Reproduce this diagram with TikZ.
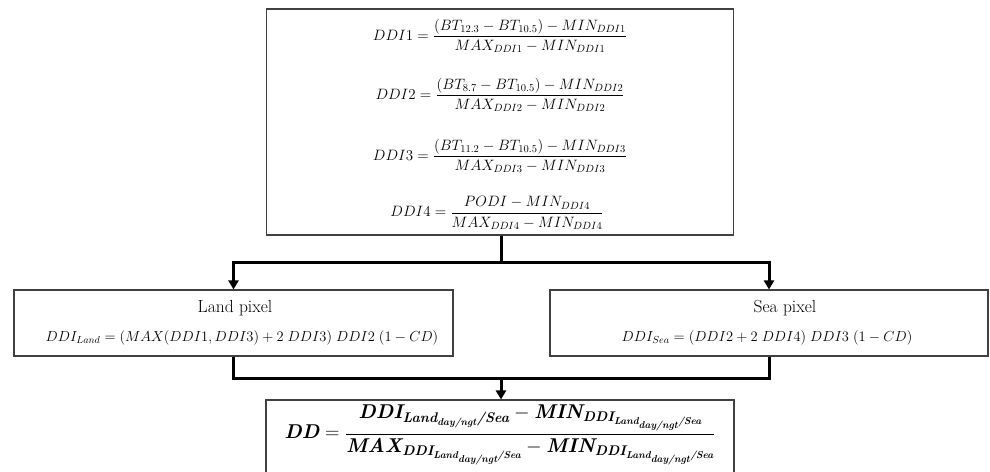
\RequirePackage{fix-cm}
\documentclass[tikz,border=0pt]{standalone}
\usepackage{amsmath}
\usetikzlibrary{arrows.meta}
\newcommand{\bi}[1]{\text{\bfseries\itshape #1}}
\newcommand{\subLS}{\bi{Land}_{\bi{day/ngt}}\bi{/Sea}}
\newcommand{\ddformula}{$\bi{DD}=\dfrac{\bi{DDI}_{\subLS}-\bi{MIN}_{\bi{DDI}_{\subLS}}}{\bi{MAX}_{\bi{DDI}_{\subLS}}-\bi{MIN}_{\bi{DDI}_{\subLS}}}$}
\begin{document}
\begin{tikzpicture}[x=1pt,y=-1pt,
  box/.style={draw=black!75, line width=1.1pt, inner sep=0pt},
  conn/.style={line width=3pt, black},
  arr/.style={conn, -{Triangle[length=9pt,width=10pt]}},
  eq/.style={inner sep=0pt, font=\fontsize{15}{18}\selectfont},
  eqs/.style={inner sep=0pt, font=\fontsize{14.5}{17}\selectfont},
  eqb/.style={inner sep=0pt, font=\fontsize{20}{24}\selectfont},
  ttl/.style={inner sep=0pt, font=\fontsize{17.5}{21}\selectfont}]
\useasboundingbox (0,0) rectangle (990,471);
% boxes
\node[box, minimum width=467pt, minimum height=226pt] (top) at (500,122) {};
\node[box, minimum width=439pt, minimum height=66pt] (land) at (233.5,323) {};
\node[box, minimum width=438pt, minimum height=66pt] (sea) at (769,323) {};
\node[box, minimum width=468pt, minimum height=160pt] (dd) at (500,480) {};
% top equations
\node[eq] (e1) at (500,36) {$DDI1=\dfrac{(BT_{12.3}-BT_{10.5})-MIN_{DDI1}}{MAX_{DDI1}-MIN_{DDI1}}$};
\node[eq] (e2) at (500,95) {$DDI2=\dfrac{(BT_{8.7}-BT_{10.5})-MIN_{DDI2}}{MAX_{DDI2}-MIN_{DDI2}}$};
\node[eq] (e3) at (500,156) {$DDI3=\dfrac{(BT_{11.2}-BT_{10.5})-MIN_{DDI3}}{MAX_{DDI3}-MIN_{DDI3}}$};
\node[eq] (e4) at (497,213) {$DDI4=\dfrac{PODI-MIN_{DDI4}}{MAX_{DDI4}-MIN_{DDI4}}$};
% land / sea
\node[ttl] (lt) at (235,308) {Land pixel};
\node[eqs] (le) at (242,338) {$DDI_{Land}=(MAX(DDI1,DDI3)+2\;DDI3)\;DDI2\;(1-CD)$};
\node[ttl] (st) at (785,308) {Sea pixel};
\node[eqs] (se) at (767,338) {$DDI_{Sea}=(DDI2+2\;DDI4)\;DDI3\;(1-CD)$};
% final
\node[eqb] (de) at (500,435) {\ddformula};
% connectors
\coordinate (j1) at (501,262);
\coordinate (j2) at (501,378);
\draw[conn] (top.south -| j1) -- (j1);
\draw[arr] (j1) -| (land.north);
\draw[arr] (j1) -| (sea.north);
\draw[conn] (land.south) |- (j2);
\draw[conn] (sea.south) |- (j2);
\draw[arr] (j2) -- (dd.north -| j2);
\end{tikzpicture}
\end{document}
